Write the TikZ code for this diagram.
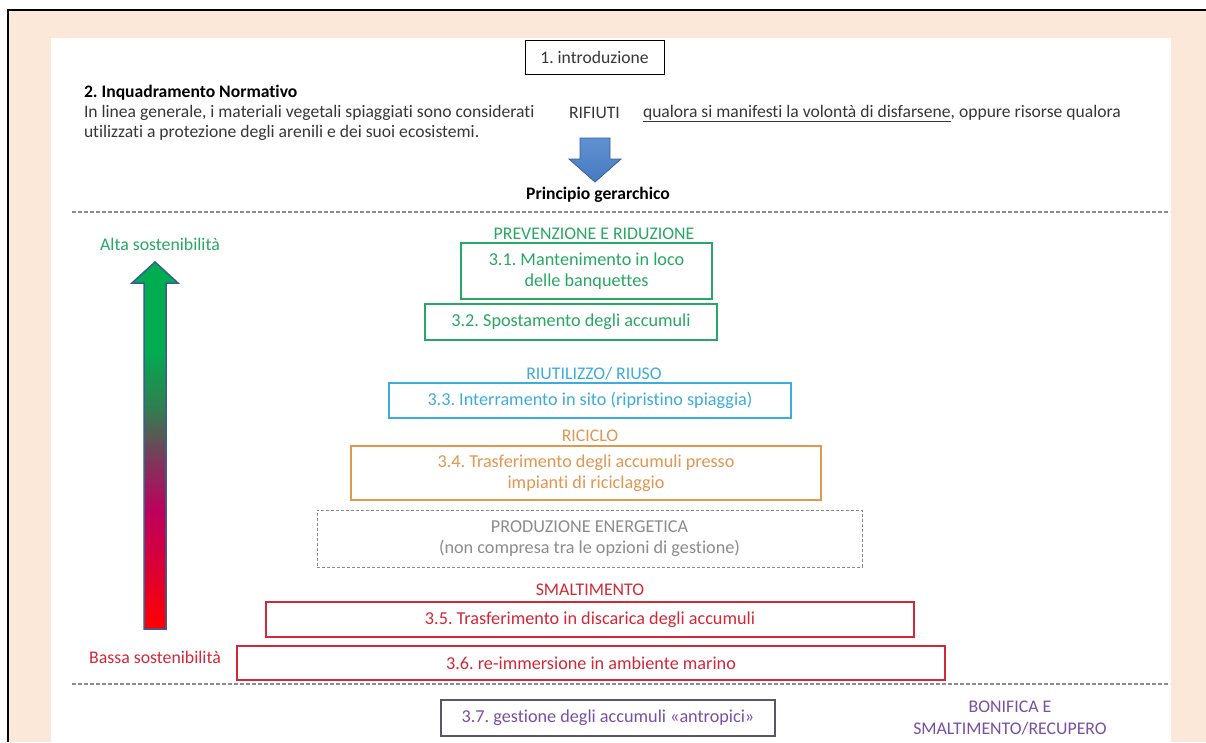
\documentclass[tikz,border=0pt]{standalone}
\usepackage{fontspec}
\setmainfont[Ligatures=NoCommon]{Carlito}
\frenchspacing
\definecolor{peach}{RGB}{252,232,217}
\definecolor{bodytext}{RGB}{55,55,55}
\definecolor{cgreen}{RGB}{40,168,100}
\definecolor{cblue}{RGB}{60,172,222}
\definecolor{corange}{RGB}{226,150,80}
\definecolor{cred}{RGB}{210,40,55}
\definecolor{cgray}{RGB}{140,140,140}
\definecolor{cpurple}{RGB}{120,80,165}
\definecolor{cboxpur}{RGB}{90,85,110}
\definecolor{arrblue}{RGB}{72,122,192}
\definecolor{arrbluetop}{RGB}{95,145,210}
\definecolor{arrblueedge}{RGB}{55,95,150}
\definecolor{gA}{RGB}{255,0,0}
\definecolor{gB}{RGB}{220,0,50}
\definecolor{gC}{RGB}{190,0,92}
\definecolor{gD}{RGB}{125,55,90}
\definecolor{gE}{RGB}{50,125,80}
\definecolor{gF}{RGB}{0,172,80}
\pgfdeclareverticalshading{sustshade}{100bp}{color(0bp)=(gA); color(25bp)=(gA); color(33bp)=(gB); color(41bp)=(gC); color(48bp)=(gD); color(55bp)=(gE); color(63bp)=(gF); color(100bp)=(gF)}
\begin{document}
\begin{tikzpicture}[x=1pt,y=-1pt,
  every node/.style={inner sep=0pt, outer sep=0pt},
  body/.style={font=\fontsize{17.6}{20}\selectfont, text=bodytext},
  lvlbox/.style={draw, line width=1.4pt, align=center, font=\fontsize{18.2}{21}\selectfont},
  lvllabel/.style={font=\fontsize{17.8}{20}\selectfont},
  sepline/.style={draw=cgray, line width=1.3pt, dash pattern=on 4pt off 2pt}]
\useasboundingbox (0,0) rectangle (1206,742);
% background
\fill[peach] (8,10) rectangle (1206,742);
\draw[black, line width=2.5pt] (8,742) -- (8,10) -- (1206,10);
\fill[white] (51,38) rectangle (1171,742);

% header
\node[draw, line width=1pt, minimum width=139pt, minimum height=34pt, font=\fontsize{17.6}{20}\selectfont, text=bodytext] (intro) at (594.5,57) {1. introduzione};
\node[anchor=base west, font=\fontsize{17.6}{20}\selectfont\bfseries, text=black] (norm) at (84,97) {2. Inquadramento Normativo};
\node[body, anchor=base west] (l1) at (84,117) {In linea generale, i materiali vegetali spiaggiati sono considerati};
\node[body, anchor=base west] (rif) at (569,118) {RIFIUTI};
\node[body, anchor=base west] (l1b) at (643,117) {\underline{qualora si manifesti la volontà di disfarsene}, oppure risorse qualora};
\node[body, anchor=base west] (l2) at (84,137) {utilizzati a protezione degli arenili e dei suoi ecosistemi.};

% blue arrow
\shade[top color=arrbluetop, bottom color=arrblue] (580,138) -- (610,138) -- (610,159) -- (621,159) -- (595,182) -- (569,159) -- (580,159) -- cycle;
\draw[arrblueedge, line width=0.8pt] (580,138) -- (610,138) -- (610,159) -- (621,159) -- (595,182) -- (569,159) -- (580,159) -- cycle;
\node[font=\fontsize{17.6}{20}\selectfont\bfseries] (princ) at (598,195) {Principio gerarchico};

% separators
\coordinate (s1a) at (72,212); \coordinate (s1b) at (1170,212);
\coordinate (s2a) at (72,684); \coordinate (s2b) at (1170,684);
\draw[sepline] (s1a) -- (s1b);
\draw[sepline] (s2a) -- (s2b);

% sustainability arrow
\shade[shading=sustshade] (144,629) -- (144,283) -- (132,283) -- (155,262) -- (178,283) -- (166,283) -- (166,629) -- cycle;
\draw[arrblueedge, line width=1.5pt, line join=miter] (144,629) -- (144,283) -- (132,283) -- (155,262) -- (178,283) -- (166,283) -- (166,629) -- cycle;
\node[lvllabel, text=cgreen] (alta) at (160,244) {Alta sostenibilità};
\node[lvllabel, text=cred] (bassa) at (155,657) {Bassa sostenibilità};

% hierarchy
\node[lvllabel, text=cgreen] (prev) at (594,234) {PREVENZIONE E RIDUZIONE};
\node[lvlbox, draw=cgreen, text=cgreen, minimum width=251pt, minimum height=56pt] (b31) at (586.5,271) {3.1. Mantenimento in loco\\delle banquettes};
\node[lvlbox, draw=cgreen, text=cgreen, minimum width=292pt, minimum height=36pt] (b32) at (571,322) {3.2. Spostamento degli accumuli};

\node[lvllabel, text=cblue] (riu) at (594,374) {RIUTILIZZO/ RIUSO};
\node[lvlbox, draw=cblue, text=cblue, minimum width=402pt, minimum height=35pt] (b33) at (590,400.5) {3.3. Interramento in sito (ripristino spiaggia)};

\node[lvllabel, text=corange] (ric) at (590,436) {RICICLO};
\node[lvlbox, draw=corange, text=corange, minimum width=470pt, minimum height=54pt] (b34) at (586,473) {3.4. Trasferimento degli accumuli presso\\impianti di riciclaggio};

\node[lvlbox, draw=cgray, line width=1pt, dash pattern=on 3pt off 2pt, text=cgray, minimum width=545pt, minimum height=57pt] (ener) at (589.5,538.5) {PRODUZIONE ENERGETICA\\(non compresa tra le opzioni di gestione)};

\node[lvllabel, text=cred] (smal) at (590,590) {SMALTIMENTO};
\node[lvlbox, draw=cred, text=cred, minimum width=648pt, minimum height=35pt] (b35) at (590,619.5) {3.5. Trasferimento in discarica degli accumuli};
\node[lvlbox, draw=cred, text=cred, minimum width=708pt, minimum height=34pt] (b36) at (591,663) {3.6. re-immersione in ambiente marino};

\node[lvlbox, draw=cboxpur, text=cpurple, minimum width=334pt, minimum height=36pt] (b37) at (608,718) {3.7. gestione degli accumuli «antropici»};
\node[lvllabel, text=cpurple, align=center, font=\fontsize{17.8}{22}\selectfont] (bon) at (1010,718) {BONIFICA E\\SMALTIMENTO/RECUPERO};
\end{tikzpicture}
\end{document}
